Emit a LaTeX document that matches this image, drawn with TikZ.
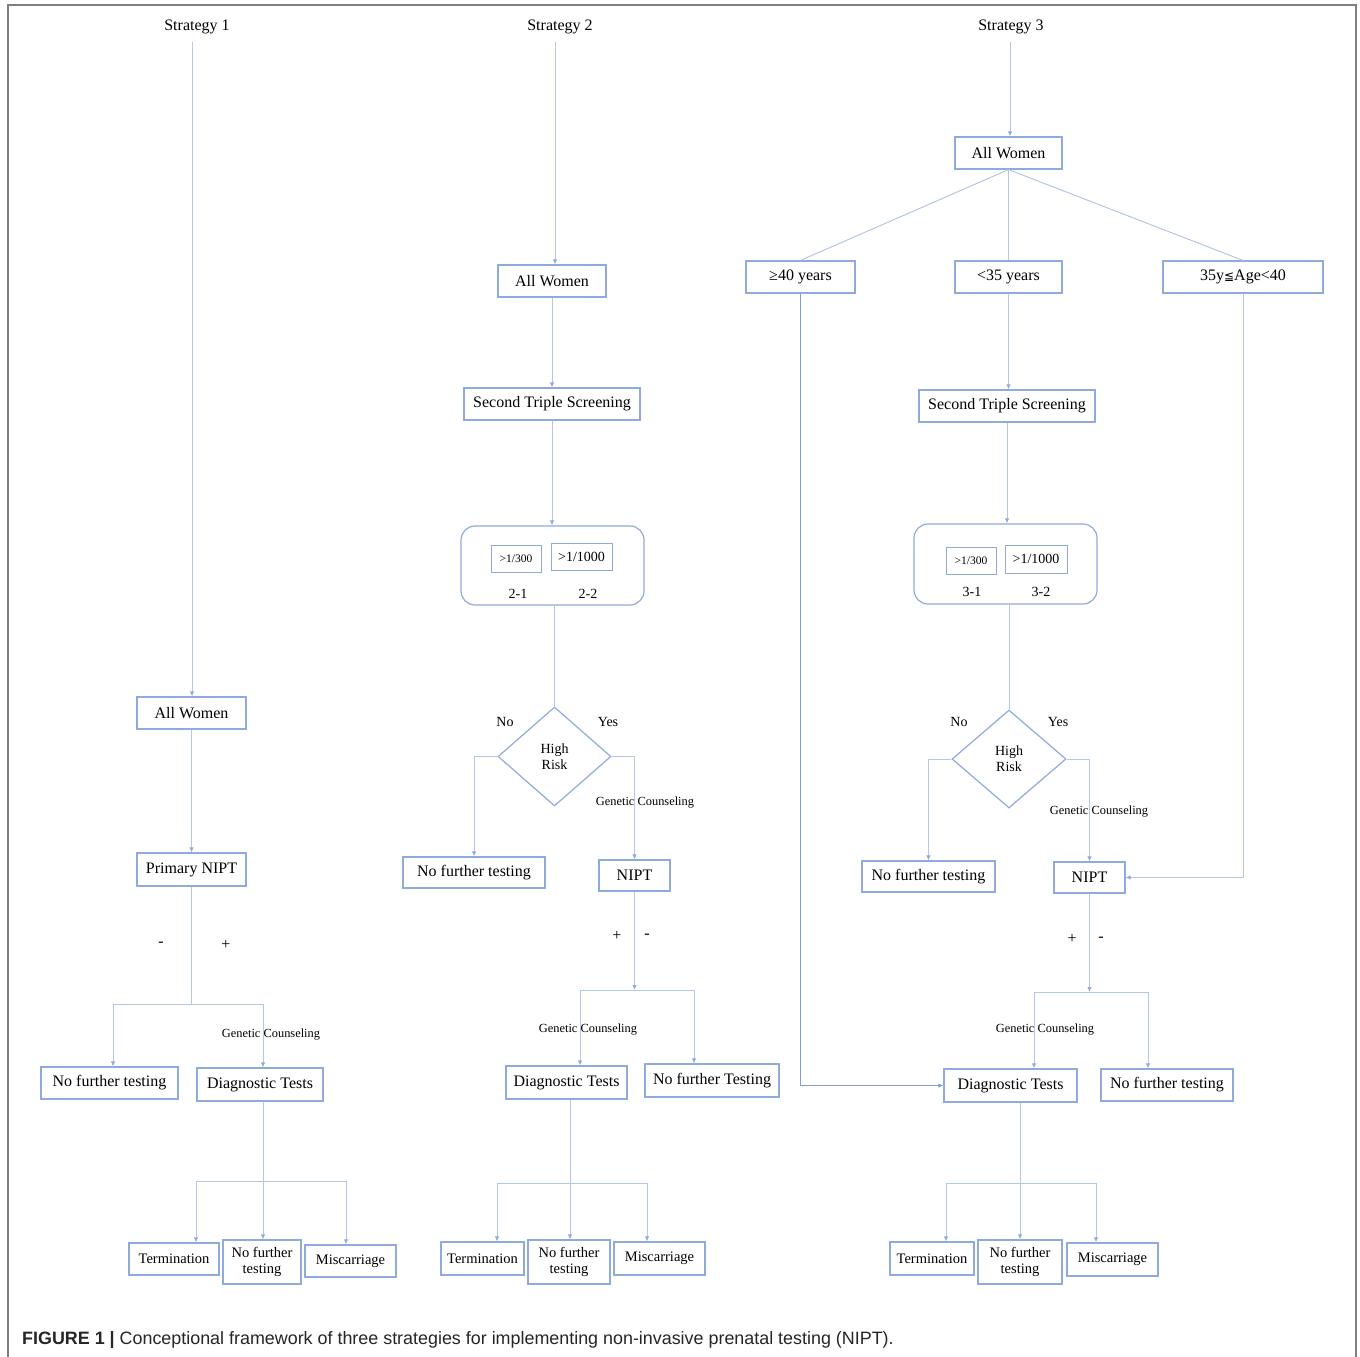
\documentclass[tikz,border=0pt]{standalone}
\usepackage{fontspec}
\setmainfont{Liberation Serif}
\newfontfamily\capfont{Liberation Sans}
\newfontfamily\symfont{DejaVu Sans}
\usetikzlibrary{arrows.meta,shapes.geometric}

\definecolor{boxc}{HTML}{8FAADC}
\definecolor{linec}{HTML}{B4C7E7}
\definecolor{tipc}{HTML}{8FAADC}
\definecolor{darkline}{HTML}{7F9FDB}
\definecolor{framec}{HTML}{7F7F7F}

\tikzset{
 sz/.style 2 args={minimum width=#1pt, minimum height=#2pt},
 box/.style={draw=boxc, line width=1.2pt, inner sep=0pt, align=center, font=\fontsize{16}{18}\selectfont, text=black},
 sbox/.style={box, font=\fontsize{14.5}{15.5}\selectfont},
 ibox/.style={draw=boxc, line width=1pt, inner sep=0pt, text=black},
 rbox/.style={draw=boxc, line width=1.2pt, rounded corners=14pt, inner sep=0pt},
 dia/.style={draw=boxc, line width=1.2pt, diamond, inner sep=0pt, align=center, font=\fontsize{14}{16}\selectfont, text=black},
 conn/.style={draw=linec, line width=1pt},
 arr/.style={conn, -{Latex[length=5pt,width=4.5pt,color=tipc]}},
 lbl/.style={inner sep=0pt, font=\fontsize{16}{18}\selectfont, text=black},
 mlbl/.style={inner sep=0pt, font=\fontsize{14}{16}\selectfont, text=black},
 gc/.style={inner sep=0pt, font=\fontsize{12.4}{14}\selectfont, text=black},
}

\begin{document}
\begin{tikzpicture}[x=1pt, y=-1pt]
\useasboundingbox (0,0) rectangle (1360,1357);
\fill[white] (0,0) rectangle (1360,1357);
\draw[framec, line width=2pt] (8,1357) -- (8,5) -- (1356,5) -- (1356,1357);

% ---------- titles ----------
\node[lbl] (t1) at (197,27) {Strategy 1};
\node[lbl] (t2) at (560,27) {Strategy 2};
\node[lbl] (t3) at (1011,27) {Strategy 3};

% ---------- Strategy 1 ----------
\node[box, sz={109}{32}] (s1aw) at (191.5,713) {All Women};
\node[box, sz={109}{33}] (s1pn) at (191.5,869.5) {Primary NIPT};
\node[box, sz={137}{32}] (s1nf) at (109.5,1083) {No further testing};
\node[box, sz={126}{33}] (s1dt) at (260,1084.5) {Diagnostic Tests};
\node[sbox, sz={90}{32}] (s1te) at (174,1259) {Termination};
\node[sbox, sz={78}{44}] (s1nt) at (262,1262) {No further\\testing};
\node[sbox, sz={91}{32}] (s1mi) at (350.5,1261) {Miscarriage};
\node[lbl] (s1m) at (161,944) {-};
\node[lbl] (s1p) at (226,945) {+};
\node[gc] (s1g) at (271,1035) {Genetic Counseling};

\coordinate (s1top) at (192,42);
\draw[arr] (s1top) -- (s1top |- s1aw.north);
\draw[arr] (s1aw.south) -- (s1pn.north);
\coordinate (s1ja) at (113,1004);
\coordinate (s1jb) at (263,1004);
\draw[conn] (s1pn.south) -- (s1pn.south |- s1ja);
\draw[conn] (s1ja) -- (s1jb);
\draw[arr] (s1ja) -- (s1ja |- s1nf.north);
\draw[arr] (s1jb) -- (s1jb |- s1dt.north);
\coordinate (s1ka) at (196,1181);
\coordinate (s1km) at (263,1181);
\coordinate (s1kb) at (346,1181);
\draw[conn] (s1ka) -- (s1kb);
\draw[arr] (s1km |- s1dt.south) -- (s1km |- s1nt.north);
\draw[arr] (s1ka) -- (s1ka |- s1te.north);
\draw[arr] (s1kb) -- (s1kb |- s1mi.north);

% ---------- Strategy 2 ----------
\node[box, sz={108}{32}] (s2aw) at (552,281) {All Women};
\node[box, sz={176}{32}] (s2ts) at (552,404) {Second Triple Screening};
\node[rbox, sz={183}{79}] (s2rb) at (552.5,565.5) {};
\node[ibox, sz={50}{27}, font=\fontsize{11.5}{13}\selectfont] (s2r1) at (516,558.5) {>1/300};
\node[ibox, sz={61}{27}, font=\fontsize{14}{16}\selectfont] (s2r2) at (581.5,556.5) {>1/1000};
\node[mlbl] (s2l1) at (518,594) {2-1};
\node[mlbl] (s2l2) at (588,594) {2-2};
\node[dia, sz={113}{99}] (s2hr) at (554.5,756.5) {High\\Risk};
\node[mlbl] (s2no) at (505,722) {No};
\node[mlbl] (s2ye) at (608,722) {Yes};
\node[gc] (s2g1) at (645,803) {Genetic Counseling};
\node[box, sz={142}{31}] (s2nf) at (474,872.5) {No further testing};
\node[box, sz={71}{31}] (s2np) at (634.5,875.5) {NIPT};
\node[lbl] (s2p) at (617,936) {+};
\node[lbl] (s2m) at (647,936) {-};
\node[gc] (s2g2) at (588,1030) {Genetic Counseling};
\node[box, sz={121}{33}] (s2dt) at (566.5,1082.5) {Diagnostic Tests};
\node[box, sz={134}{33}] (s2nF) at (712,1080.5) {No further Testing};
\node[sbox, sz={83}{33}] (s2te) at (482.5,1258.5) {Termination};
\node[sbox, sz={82}{44}] (s2nt) at (569,1262) {No further\\testing};
\node[sbox, sz={91}{33}] (s2mi) at (659.5,1258.5) {Miscarriage};

\coordinate (s2top) at (555,42);
\draw[arr] (s2top) -- (s2top |- s2aw.north);
\draw[arr] (s2aw.south) -- (s2ts.north);
\draw[arr] (s2ts.south) -- (s2ts.south |- s2rb.north);
\draw[conn] (s2hr.north |- s2rb.south) -- (s2hr.north);
\draw[arr] (s2hr.west) -| (s2nf.north);
\draw[arr] (s2hr.east) -| (s2np.north);
\coordinate (s2ja) at (580,990);
\coordinate (s2jb) at (694,990);
\draw[arr] (s2np.south) -- (s2np.south |- s2ja);
\draw[conn] (s2ja) -- (s2jb);
\draw[arr] (s2ja) -- (s2ja |- s2dt.north);
\draw[arr] (s2jb) -- (s2jb |- s2nF.north);
\coordinate (s2ka) at (497,1183);
\coordinate (s2km) at (570,1183);
\coordinate (s2kb) at (647,1183);
\draw[conn] (s2ka) -- (s2kb);
\draw[arr] (s2km |- s2dt.south) -- (s2km |- s2nt.north);
\draw[arr] (s2ka) -- (s2ka |- s2te.north);
\draw[arr] (s2kb) -- (s2kb |- s2mi.north);

% ---------- Strategy 3 ----------
\node[box, sz={107}{32}] (s3aw) at (1008.5,153) {All Women};
\node[box, sz={109}{32}] (s3a40) at (800.5,277) {≥40 years};
\node[box, sz={107}{32}] (s3a35) at (1008.5,277) {<35 years};
\node[box, sz={160}{32}] (s3amid) at (1243,277) {35y{\symfont\fontsize{12}{14}\selectfont ≦}Age<40};
\node[box, sz={176}{32}] (s3ts) at (1007,406) {Second Triple Screening};
\node[rbox, sz={183}{80}] (s3rb) at (1005.5,564) {};
\node[ibox, sz={50}{27}, font=\fontsize{11.5}{13}\selectfont] (s3r1) at (971,560.5) {>1/300};
\node[ibox, sz={62}{28}, font=\fontsize{14}{16}\selectfont] (s3r2) at (1036,559) {>1/1000};
\node[mlbl] (s3l1) at (972,592) {3-1};
\node[mlbl] (s3l2) at (1041,592) {3-2};
\node[dia, sz={114}{98}] (s3hr) at (1009,759) {High\\Risk};
\node[mlbl] (s3no) at (959,722) {No};
\node[mlbl] (s3ye) at (1058,722) {Yes};
\node[gc] (s3g1) at (1099,812) {Genetic Counseling};
\node[box, sz={133}{31}] (s3nf) at (928.5,876.5) {No further testing};
\node[box, sz={71}{31}] (s3np) at (1089.5,877.5) {NIPT};
\node[lbl] (s3p) at (1072,939) {+};
\node[lbl] (s3m) at (1101,939) {-};
\node[gc] (s3g2) at (1045,1030) {Genetic Counseling};
\node[box, sz={133}{33}] (s3dt) at (1010.5,1085.5) {Diagnostic Tests};
\node[box, sz={132}{32}] (s3nF) at (1167,1085) {No further testing};
\node[sbox, sz={84}{33}] (s3te) at (932,1258.5) {Termination};
\node[sbox, sz={84}{44}] (s3nt) at (1020,1262) {No further\\testing};
\node[sbox, sz={91}{33}] (s3mi) at (1112.5,1259.5) {Miscarriage};

\coordinate (s3top) at (1010,42);
\draw[arr] (s3top) -- (s3top |- s3aw.north);
\draw[conn] (s3aw.south) -- (s3a40.north);
\draw[conn] (s3aw.south) -- (s3a35.north);
\draw[conn] (s3aw.south) -- (s3amid.north);
\draw[arr] (s3a35.south) -- (s3a35.south |- s3ts.north);
\draw[arr] (s3ts.south) -- (s3ts.south |- s3rb.north);
\draw[conn] (s3rb.south -| s3hr.north) -- (s3hr.north);
\draw[arr] (s3hr.west) -| (s3nf.north);
\draw[arr] (s3hr.east) -| (s3np.north);
\draw[arr] (s3amid.south) |- (s3np.east);
\draw[draw=darkline, line width=1.2pt, -{Latex[length=5pt,width=4.5pt,color=darkline]}] (s3a40.south) |- (s3dt.west);
\coordinate (s3ja) at (1034,992);
\coordinate (s3jb) at (1148,992);
\draw[arr] (s3np.south) -- (s3np.south |- s3ja);
\draw[conn] (s3ja) -- (s3jb);
\draw[arr] (s3ja) -- (s3ja |- s3dt.north);
\draw[arr] (s3jb) -- (s3jb |- s3nF.north);
\coordinate (s3ka) at (946,1183);
\coordinate (s3km) at (1020,1183);
\coordinate (s3kb) at (1096,1183);
\draw[conn] (s3ka) -- (s3kb);
\draw[arr] (s3km |- s3dt.south) -- (s3km |- s3nt.north);
\draw[arr] (s3ka) -- (s3ka |- s3te.north);
\draw[arr] (s3kb) -- (s3kb |- s3mi.north);

% ---------- caption ----------
\node[anchor=west, inner sep=0pt, text=black!85, font=\capfont\fontsize{17.9}{20}\selectfont] (cap) at (22,1340) {\textbf{FIGURE 1 |} Conceptional framework of three strategies for implementing non-invasive prenatal testing (NIPT).};
\end{tikzpicture}
\end{document}
